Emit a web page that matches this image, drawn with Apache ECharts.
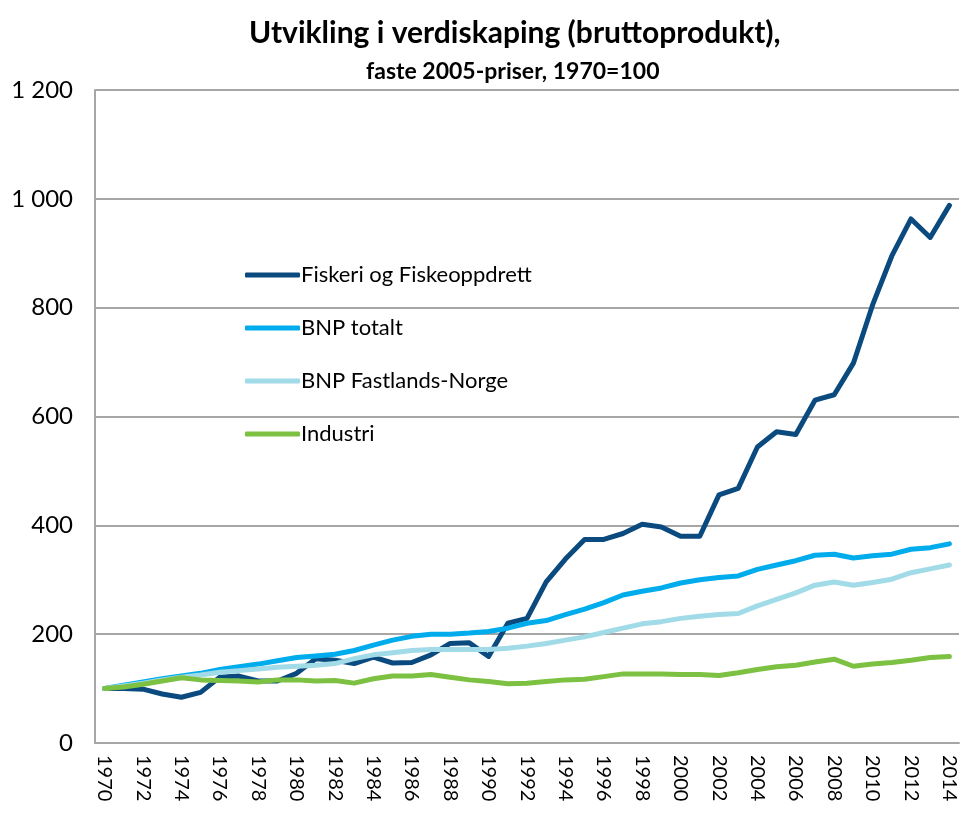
<!DOCTYPE html>
<html>
<head>
<meta charset="utf-8">
<script src="https://cdn.jsdelivr.net/npm/echarts@6/dist/echarts.min.js"></script>
<style>
  html, body { margin: 0; padding: 0; background: #fff; }
  #main { width: 963px; height: 813px; }
</style>
</head>
<body>
<div id="main"></div>
<script>
// årstall 1970-2014
var years = [];
for (var y = 1970; y <= 2014; y++) years.push(String(y));

var fiskeri = [100, 100, 99, 90, 84, 93, 121, 123, 114, 114,
               128, 155, 152, 146, 158, 147, 148, 162, 183, 184,
               159, 220, 229, 296, 338, 374, 374, 385, 402, 397,
               380, 380, 456, 468, 544, 572, 567, 630, 640, 698,
               805, 895, 963, 929, 988];
var bnpTotalt = [100, 106, 112, 118, 123, 128, 135, 140, 145, 151,
                 157, 160, 163, 170, 180, 189, 196, 200, 200, 202,
                 205, 211, 220, 225, 236, 246, 258, 272, 279, 285,
                 294, 300, 304, 307, 319, 327, 335, 345, 347, 340,
                 344, 347, 356, 359, 366];
var bnpFastland = [100, 105, 110, 116, 121, 125, 130, 133, 136, 139,
                   141, 143, 146, 155, 162, 166, 170, 172, 172, 172,
                   172, 174, 178, 183, 189, 195, 203, 211, 219, 223,
                   229, 233, 236, 238, 252, 264, 276, 290, 296, 290,
                   295, 301, 313, 320, 327];
var industri = [100, 103, 108, 114, 120, 116, 115, 114, 112, 116,
                116, 114, 115, 110, 118, 123, 123, 126, 121, 116,
                113, 109, 110, 113, 116, 117, 122, 127, 127, 127,
                126, 126, 124, 129, 135, 140, 143, 149, 154, 141,
                145, 148, 152, 157, 159];

var seriesNames = ['Fiskeri og Fiskeoppdrett', 'BNP totalt', 'BNP Fastlands-Norge', 'Industri'];
var colors = ['#0A4A7F', '#00ACEC', '#A2DBE8', '#7DC142'];

var myChart = echarts.init(document.getElementById('main'));

function lag(navn, data, farge) {
  return {
    name: navn,
    type: 'line',
    data: data,
    showSymbol: false,
    symbol: 'none',
    lineStyle: { width: 5, color: farge, cap: 'round', join: 'round' },
    itemStyle: { color: farge }
  };
}

option = {
  animation: false,
  textStyle: { fontFamily: 'Lato' },
  title: [
    {
      text: 'Utvikling i verdiskaping (bruttoprodukt),',
      left: 244,
      top: 13,
      textStyle: { fontSize: 30, fontWeight: 'bold', color: '#000', fontFamily: 'Lato' }
    },
    {
      text: 'faste 2005-priser, 1970=100',
      left: 361,
      top: 55,
      textStyle: { fontSize: 23, fontWeight: 'bold', color: '#000', fontFamily: 'Lato' }
    }
  ],
  legend: {
    orient: 'vertical',
    left: 240,
    top: 259,
    itemWidth: 55,
    itemHeight: 5,
    itemGap: 31,
    icon: 'roundRect',
    data: seriesNames,
    textStyle: { fontSize: 22, color: '#000', padding: [0, 0, 0, -4] }
  },
  grid: { left: 95, right: 4, top: 90, bottom: 70, containLabel: false },
  xAxis: {
    type: 'category',
    data: years,
    boundaryGap: true,
    axisLine: { lineStyle: { color: '#a6a6a6', width: 2 } },
    axisTick: { show: false },
    axisLabel: { rotate: -90, interval: 1, fontSize: 20, color: '#000', margin: 12 }
  },
  yAxis: {
    type: 'value',
    min: 0,
    max: 1200,
    interval: 200,
    axisLine: { show: true, lineStyle: { color: '#a6a6a6', width: 2 } },
    axisTick: { show: false },
    splitLine: { lineStyle: { color: '#a6a6a6', width: 2 } },
    axisLabel: {
      fontSize: 24,
      color: '#000',
      margin: 22,
      formatter: function (v) { return String(v).replace(/\B(?=(\d{3})+(?!\d))/g, ' '); }
    }
  },
  series: [
    lag(seriesNames[0], fiskeri, colors[0]),
    lag(seriesNames[1], bnpTotalt, colors[1]),
    lag(seriesNames[2], bnpFastland, colors[2]),
    lag(seriesNames[3], industri, colors[3])
  ]
};

myChart.setOption(option);
</script>
</body>
</html>
